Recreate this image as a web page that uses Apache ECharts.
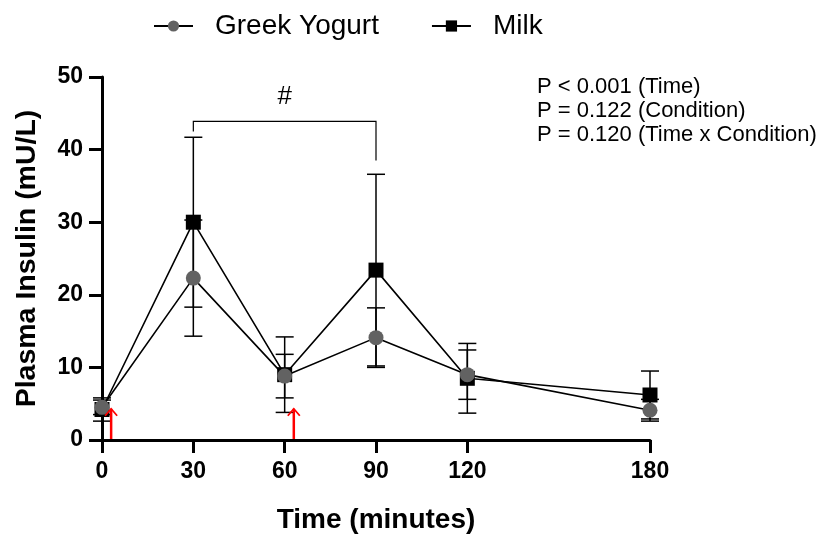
<!DOCTYPE html>
<html><head><meta charset="utf-8">
<script src="https://cdn.jsdelivr.net/npm/echarts@6/dist/echarts.min.js"></script>
<style>html,body{margin:0;padding:0;background:#fff}#c{width:824px;height:537px}</style>
</head><body><div id="c"></div>
<script>
const times = [0, 30, 60, 90, 120, 180];
const xTickLabels = [0, 30, 60, 90, 120, 180];
const yTicks = [0, 10, 20, 30, 40, 50];
const gyMean = [4.5, 22.3, 8.8, 14.1, 9.0, 4.1];
const gySD = [1.0, 8.0, 3.0, 4.1, 3.4, 1.5];
const milkMean = [4.2, 30.0, 9.0, 23.4, 8.5, 6.2];
const milkSD = [1.6, 11.7, 5.2, 13.2, 4.8, 3.3];
const arrowTimes = [3, 63];
const arrowTop = 4.3;
const bracket = {x1: 30, x2: 90, top: 43.9, leftEnd: 42.5, rightEnd: 38.5, label: '#', labelY: 47.2};
const statsText = ['P < 0.001 (Time)', 'P = 0.122 (Condition)', 'P = 0.120 (Time x Condition)'];
const seriesNames = ['Greek Yogurt', 'Milk'];

const FONT = '"Liberation Sans", Arial, sans-serif';
const errData = (m, s) => times.map((t, i) => [t, m[i] - s[i], m[i] + s[i]]);

function errRender(params, api) {
  const x = api.value(0), lo = api.value(1), hi = api.value(2);
  const a = api.coord([x, hi]), b = api.coord([x, lo]);
  const w = 9, st = {stroke: '#000', lineWidth: 1.5};
  return {type: 'group', children: [
    {type: 'line', shape: {x1: a[0], y1: a[1], x2: b[0], y2: b[1]}, style: st},
    {type: 'line', shape: {x1: a[0] - w, y1: a[1], x2: a[0] + w, y2: a[1]}, style: st},
    {type: 'line', shape: {x1: b[0] - w, y1: b[1], x2: b[0] + w, y2: b[1]}, style: st}
  ]};
}

const chart = echarts.init(document.getElementById('c'), null, {renderer: 'canvas'});
chart.setOption({
  animation: false,
  textStyle: {fontFamily: FONT},
  grid: {left: 102, right: 174, top: 77, bottom: 97, containLabel: false, outerBoundsMode: 'none'},
  legend: {
    top: 7, left: 148, itemWidth: 39, itemHeight: 14, itemGap: 52,
    data: seriesNames,
    textStyle: {fontSize: 28, color: '#000', fontFamily: FONT, padding: [0, 0, 0, 17]}
  },
  xAxis: {
    type: 'value', min: 0, max: 180, interval: 30,
    axisLine: {lineStyle: {color: '#000', width: 3}},
    axisTick: {show: true, length: 13, lineStyle: {width: 3, color: '#000'}, customValues: xTickLabels},
    axisLabel: {customValues: xTickLabels, fontSize: 23, fontWeight: 'bold', color: '#000', margin: 20, fontFamily: FONT},
    splitLine: {show: false},
    name: 'Time (minutes)', nameLocation: 'middle', nameGap: 66,
    nameTextStyle: {fontSize: 28, fontWeight: 'bold', color: '#000', fontFamily: FONT}
  },
  yAxis: {
    type: 'value', min: 0, max: 50, interval: 10,
    axisLine: {show: true, lineStyle: {color: '#000', width: 3}},
    axisTick: {show: true, length: 13, lineStyle: {width: 3, color: '#000'}, customValues: yTicks},
    axisLabel: {customValues: yTicks, fontSize: 23, fontWeight: 'bold', color: '#000', margin: 19, fontFamily: FONT},
    splitLine: {show: false},
    name: 'Plasma Insulin (mU/L)', nameLocation: 'middle', nameGap: 60,
    nameTextStyle: {fontSize: 28.5, fontWeight: 'bold', color: '#000', fontFamily: FONT}
  },
  series: [
    {type: 'custom', name: 'milkErr', renderItem: errRender, data: errData(milkMean, milkSD), encode: {x: 0, y: [1, 2]}, z: 1, silent: true},
    {type: 'custom', name: 'gyErr', renderItem: errRender, data: errData(gyMean, gySD), encode: {x: 0, y: [1, 2]}, z: 1, silent: true},
    {
      type: 'line', name: 'Milk', data: times.map((t, i) => [t, milkMean[i]]),
      symbol: 'rect', symbolSize: 15, showAllSymbol: true,
      itemStyle: {color: '#000'}, lineStyle: {color: '#000', width: 1.6}, z: 3
    },
    {
      type: 'line', name: 'Greek Yogurt', data: times.map((t, i) => [t, gyMean[i]]),
      symbol: 'circle', symbolSize: 15, showAllSymbol: true,
      itemStyle: {color: '#626262'}, lineStyle: {color: '#000', width: 1.6}, z: 4
    },
    {
      type: 'custom', name: 'arrows', silent: true, z: 5,
      data: arrowTimes.map(t => [t, 0, arrowTop]),
      encode: {x: 0, y: [1, 2]},
      renderItem(params, api) {
        const x = api.value(0);
        const b = api.coord([x, api.value(1)]), a = api.coord([x, api.value(2)]);
        const st = {stroke: '#ff0000', lineWidth: 2.5};
        return {type: 'group', children: [
          {type: 'line', shape: {x1: a[0], y1: a[1], x2: b[0], y2: b[1] - 1}, style: st},
          {type: 'polyline', shape: {points: [[a[0] - 6, a[1] + 7], [a[0], a[1]], [a[0] + 6, a[1] + 7]]}, style: {stroke: '#ff0000', lineWidth: 1.8, fill: null}}
        ]};
      }
    },
    {
      type: 'custom', name: 'bracket', silent: true, z: 5,
      data: [[bracket.x1, bracket.x2, bracket.top, bracket.leftEnd, bracket.rightEnd, bracket.labelY]],
      encode: {x: [0, 1], y: [2, 3, 4, 5]},
      renderItem(params, api) {
        const x1 = api.value(0), x2 = api.value(1);
        const pL = api.coord([x1, api.value(2)]), pR = api.coord([x2, api.value(2)]);
        const lE = api.coord([x1, api.value(3)]), rE = api.coord([x2, api.value(4)]);
        const lab = api.coord([(x1 + x2) / 2, api.value(5)]);
        return {type: 'group', children: [
          {type: 'polyline', shape: {points: [[lE[0], lE[1]], [pL[0], pL[1]], [pR[0], pR[1]], [rE[0], rE[1]]]}, style: {stroke: '#000', lineWidth: 1.2, fill: null}},
          {type: 'text', x: lab[0], y: lab[1], style: {text: bracket.label, fontSize: 26, fontFamily: FONT, fill: '#000', align: 'center', verticalAlign: 'middle'}}
        ]};
      }
    }
  ],
  graphic: statsText.map((s, i) => ({
    type: 'text', left: 537, top: 76 + i * 24,
    style: {text: s, fontSize: 22, fontFamily: FONT, fill: '#000'}
  }))
});
</script></body></html>
